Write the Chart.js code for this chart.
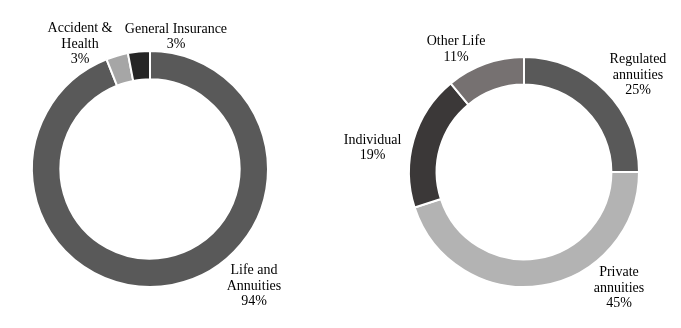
<!DOCTYPE html>
<html>
<head>
<meta charset="utf-8">
<script src="https://cdn.jsdelivr.net/npm/chart.js@4.4.1/dist/chart.umd.min.js"></script>
<style>
  html, body { margin: 0; padding: 0; background: #fff; }
  #wrap { position: relative; width: 681px; height: 328px; overflow: hidden; }
  canvas { position: absolute; top: 0; }
  #c1 { left: 0; }
  #c2 { left: 340px; }
</style>
</head>
<body>
<div id="wrap">
  <canvas id="c1" width="340" height="328"></canvas>
  <canvas id="c2" width="341" height="328"></canvas>
</div>
<script>
// ---- data ----
const leftCategories = ["Life and\nAnnuities", "Accident &\nHealth", "General Insurance"];
const leftValues = [94, 3, 3];
const rightCategories = ["Regulated\nannuities", "Private\nannuities", "Individual", "Other Life"];
const rightValues = [25, 45, 19, 11];

// ---- styles / layout (not data) ----
const leftColors = ["#595959", "#a6a6a6", "#262626"];
const rightColors = ["#595959", "#b3b3b3", "#3b3838", "#767171"];
// label block centres relative to donut centre, in units of outer radius
const leftLabelPos = [[0.881, 0.992], [-0.593, -1.059], [0.220, -1.119]];
const rightLabelPos = [[0.991, -0.843], [0.826, 1.009], [-1.317, -0.209], [-0.591, -1.065]];

const FONT = '14px "Liberation Serif", "Times New Roman", serif';
const LINE_H = 15.5;

const labelPlugin = {
  id: 'sliceLabels',
  afterDraw(chart, args, opts) {
    const meta = chart.getDatasetMeta(0);
    const arc = meta.data[0];
    const cx = arc.x, cy = arc.y, R = arc.outerRadius;
    const ctx = chart.ctx;
    const cats = chart.data.labels;
    const vals = chart.data.datasets[0].data;
    ctx.save();
    ctx.font = FONT;
    ctx.fillStyle = '#000';
    ctx.textAlign = 'center';
    ctx.textBaseline = 'middle';
    cats.forEach((c, i) => {
      const lines = c.split('\n').concat([vals[i] + '%']);
      const p = opts.pos[i];
      const x = cx + p[0] * R;
      const y0 = cy + p[1] * R - (lines.length - 1) * LINE_H / 2;
      lines.forEach((t, j) => ctx.fillText(t, x, y0 + j * LINE_H));
    });
    ctx.restore();
  }
};

function makeChart(id, cats, vals, colors, pos, padding) {
  return new Chart(document.getElementById(id), {
    type: 'doughnut',
    data: {
      labels: cats,
      datasets: [{
        data: vals,
        backgroundColor: colors,
        borderColor: '#ffffff',
        borderWidth: 2
      }]
    },
    options: {
      responsive: false,
      animation: false,
      cutout: '76%',
      layout: { padding: padding },
      plugins: {
        legend: { display: false },
        tooltip: { enabled: false },
        sliceLabels: { pos: pos }
      }
    },
    plugins: [labelPlugin]
  });
}

makeChart('c1', leftCategories, leftValues, leftColors, leftLabelPos,
  { left: 31, right: 71, top: 50, bottom: 40 });
makeChart('c2', rightCategories, rightValues, rightColors, rightLabelPos,
  { left: 68, right: 41, top: 56, bottom: 40 });
</script>
</body>
</html>
